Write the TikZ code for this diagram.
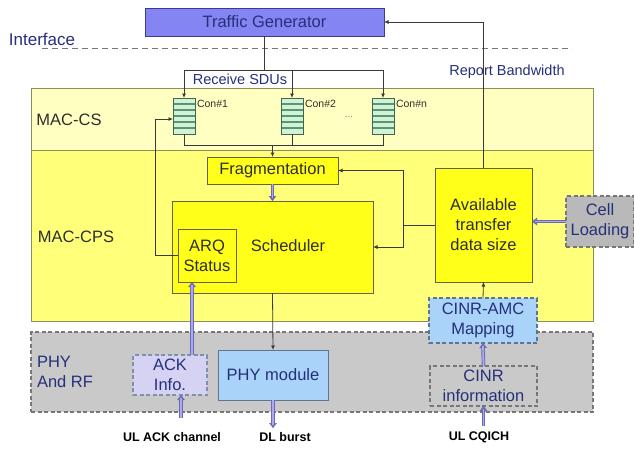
\documentclass[tikz,border=0pt]{standalone}
\usepackage{fontspec}
\setmainfont{Liberation Sans}
\usetikzlibrary{arrows.meta}

\definecolor{txtblue}{HTML}{26307A}
\definecolor{txtgray}{HTML}{2E2E2E}
\definecolor{tgfill}{HTML}{8484F2}
\definecolor{tgedge}{HTML}{3C3C8C}
\definecolor{csfill}{HTML}{FFFFC2}
\definecolor{cpsfill}{HTML}{FFFF7A}
\definecolor{boxfill}{HTML}{FFFF1A}
\definecolor{olive}{HTML}{8E8E5A}
\definecolor{phyfill}{HTML}{C9C9C9}
\definecolor{dashedge}{HTML}{777777}
\definecolor{ackfill}{HTML}{D6D2F4}
\definecolor{bluefill}{HTML}{A9D3F9}
\definecolor{blueedge}{HTML}{5D7593}
\definecolor{pipeedge}{HTML}{6C6AB4}
\definecolor{pipefill}{HTML}{ABA9F0}
\definecolor{qfill}{HTML}{D2F2D8}
\definecolor{qline}{HTML}{5A9470}
\definecolor{qedge}{HTML}{3E6650}
\definecolor{wire}{HTML}{3A3A3A}

\begin{document}
\begin{tikzpicture}[x=1pt,y=-1pt,
  every node/.style={inner sep=0pt, outer sep=0pt},
  big/.style={font=\fontsize{16.5}{20}\selectfont},
  region/.style={draw=olive, line width=0.9pt, minimum width=562pt},
  ybox/.style={big, draw=olive!70!black, fill=boxfill, line width=1pt,
    text=txtgray, align=center},
  dbox/.style={big, draw=dashedge, dashed, dash pattern=on 4pt off 2.5pt,
    line width=1.2pt, text=txtblue, align=center},
  queue/.style={draw=qedge, fill=qfill, line width=0.8pt,
    minimum width=22pt, minimum height=36pt,
    path picture={\foreach \k in {6,12,18,24,30}
      \draw[qline, line width=1.3pt]
        ([yshift=-\k pt]path picture bounding box.north west) --
        ([yshift=-\k pt]path picture bounding box.north east);}},
  conlbl/.style={anchor=west, font=\fontsize{10.5}{12}\selectfont, text=txtgray},
  wirearrow/.style={draw=wire, line width=0.8pt, -{Latex[length=4.5pt,width=4pt]}},
  plainwire/.style={draw=wire, line width=0.8pt},
  pipe/.style={draw=pipeedge, line width=3.6pt,
    -{Triangle[length=5pt,width=7.5pt,line width=0.4pt]},
    postaction={draw=pipefill, line width=1.8pt, -{}, shorten >=3pt}},
  foot/.style={font=\fontsize{12.5}{14}\selectfont\bfseries, text=black}
]
\useasboundingbox (0,0) rectangle (634,450);
\fill[white] (0,0) rectangle (634,450);

% ---- layer regions ----
\node[region, fill=csfill, minimum height=62pt] (cs) at (312,119) {};
\node[region, fill=cpsfill, minimum height=171pt] (cps) at (312,235.5) {};
\node[draw=dashedge, dashed, dash pattern=on 4pt off 2.5pt, line width=1.2pt,
  fill=phyfill, minimum width=562pt, minimum height=80pt] (phy) at (312,372) {};

\node[big, text=txtgray] (cslbl) at (69,120) {MAC-CS};
\node[big, text=txtgray] (cpslbl) at (76,237) {MAC-CPS};
\node[big, text=txtblue, align=left, anchor=west] (phylbl) at (37,372) {PHY\\And RF};

% ---- interface ----
\node[big, font=\fontsize{17}{20}\selectfont, text=txtblue] (iflbl) at (42,39) {Interface};
\coordinate (ifl) at (42,48);
\coordinate (ifr) at (572,48);
\draw[dashedge, line width=0.9pt, dash pattern=on 6pt off 4pt] (ifl) -- (ifr);

% ---- traffic generator ----
\node[big, draw=tgedge, fill=tgfill, line width=1pt, text=txtblue,
  minimum width=239pt, minimum height=28pt] (tg) at (264.5,22) {Traffic Generator};

\node[font=\fontsize{14.5}{17}\selectfont, text=txtblue] (rsdu) at (240,79) {Receive SDUs};
\node[font=\fontsize{14.5}{17}\selectfont, text=txtblue] (rbw) at (507,72) {Report Bandwidth};

% ---- connection queues ----
\node[queue] (q1) at (184,116) {};
\node[queue] (q2) at (292,116) {};
\node[queue] (qn) at (383,116) {};
\node[conlbl] (q1lbl) at (197,104) {Con\#1};
\node[conlbl] (q2lbl) at (305,104) {Con\#2};
\node[conlbl] (qnlbl) at (396,104) {Con\#n};
\node[font=\fontsize{10}{12}\selectfont, text=gray] (dots) at (349,117) {...};

% ---- MAC-CPS blocks ----
\node[ybox, minimum width=131pt, minimum height=27pt] (frag) at (272.5,170.5) {Fragmentation};
\node[ybox, minimum width=201pt, minimum height=92pt] (sched) at (272.5,247) {};
\node[big, text=txtgray] (schedlbl) at (288,246) {Scheduler};
\node[ybox, minimum width=58pt, minimum height=53pt] (arq) at (207,255.5) {ARQ\\Status};
\node[ybox, minimum width=97pt, minimum height=114pt] (avail) at (483.5,225)
  {Available\\transfer\\data size};
\node[dbox, fill=phyfill!92!black, minimum width=68pt, minimum height=51pt] (cell)
  at (600,221.5) {Cell\\Loading};

% ---- PHY blocks ----
\node[dbox, fill=ackfill, draw=blueedge!80, minimum width=74pt, minimum height=40pt] (ack)
  at (170,375) {ACK\\Info.};
\node[big, draw=blueedge, fill=bluefill, line width=1pt, text=txtblue,
  minimum width=110pt, minimum height=50pt] (phym) at (273,375) {PHY module};
\node[dbox, fill=bluefill, draw=blueedge, minimum width=108pt, minimum height=45pt] (amc)
  at (483,320.5) {CINR-AMC\\Mapping};
\node[dbox, fill=phyfill, minimum width=107pt, minimum height=40pt] (cinr)
  at (483.5,386) {CINR\\information};

% ---- external channel labels ----
\node[foot] (ulack) at (172,437) {UL ACK channel};
\node[foot] (dlb) at (285,437) {DL burst};
\node[foot] (ulcq) at (479,437) {UL CQICH};

% ---- SDU distribution ----
\coordinate (split) at (264,70);
\draw[plainwire] (tg.south -| split) -- (split);
\draw[wirearrow] (split) -| (q1.north);
\draw[wirearrow] (split) -| (qn.north);
\draw[wirearrow] (q2.north |- split) -- (q2.north);

% ---- queues to fragmentation ----
\coordinate (merge) at (272.5,145);
\draw[plainwire] (q1.south) |- (qn.south |- merge) -- (qn.south);
\draw[plainwire] (q2.south) -- (q2.south |- merge);
\draw[wirearrow] (merge) -- (frag.north);

% ---- ARQ retransmission feedback ----
\coordinate (arqturn) at (155,255.5);
\draw[wirearrow] (arq.west) -- (arqturn) |- ([yshift=-3pt]q1.west);

% ---- available size feedback ----
\coordinate (avsplit) at (403,225);
\draw[plainwire] (avail.west) -- (avsplit);
\draw[wirearrow] (avsplit) |- (frag.east);
\draw[wirearrow] (avsplit) |- (sched.east);

% ---- report bandwidth ----
\draw[wirearrow] (avail.north) |- (tg.east);

% ---- scheduler to PHY ----
\draw[wirearrow] (sched.south) -- (phym.north);
\draw[wirearrow] (amc.north) -- (avail.south);

% ---- thick data paths ----
\draw[pipe] (frag.south) -- (sched.north);
\draw[pipe] (cell.west) -- (cell.west -| avail.east);
\draw[pipe] ([xshift=22pt]ack.north) -- ([xshift=22pt]ack.north |- arq.south);
\coordinate (ackin) at (181,418);
\draw[pipe] (ackin) -- (ackin |- ack.south);
\coordinate (dlout) at (273,428);
\draw[pipe] (phym.south) -- (dlout);
\draw[pipe] (cinr.north) -- (amc.south);
\coordinate (cqin) at (483.5,426);
\draw[pipe] (cqin) -- (cinr.south);
\end{tikzpicture}
\end{document}
